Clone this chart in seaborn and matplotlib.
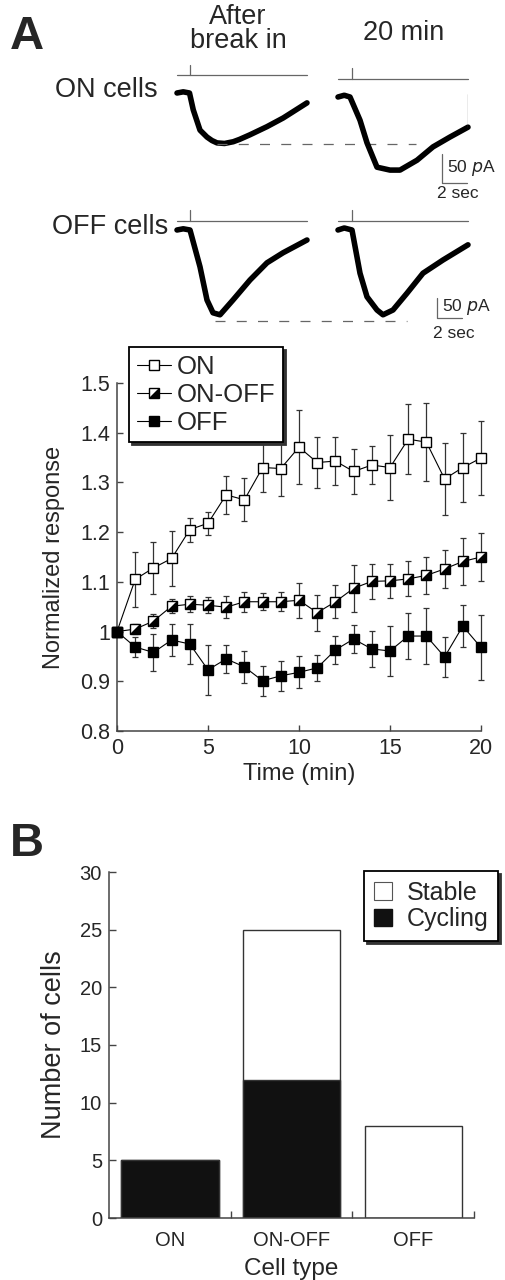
import numpy as np
import pandas as pd
import seaborn as sns
import matplotlib.pyplot as plt
from matplotlib.lines import Line2D
from matplotlib.patches import Patch
from matplotlib.ticker import FormatStrFormatter, FixedLocator

# --- data ---
# example traces (time in s, current in pA, relative to baseline)
on_before_t = [0, 0.5, 1.0, 1.3, 1.84, 2.4, 2.8, 3.2, 3.8, 4.5, 5.0, 5.84, 7.2, 8.5, 10.4]
on_before_i = [0, 2, 0, -29, -64, -76, -82, -86, -87, -84, -80, -72, -58, -43, -17]
on_after_t = [0, 0.5, 0.96, 1.76, 2.32, 3.12, 4.16, 4.96, 6.32, 7.6, 8.96, 10.4]
on_after_i = [0, 3, 0, -40, -79, -121, -126, -126, -109, -86, -69, -52]
off_before_t = [0, 0.5, 1.04, 1.84, 2.4, 2.88, 3.44, 4.48, 5.84, 7.2, 8.48, 10.4]
off_before_i = [0, 3, 0, -92, -175, -207, -212, -175, -125, -82, -57, -25]
off_after_t = [0, 0.5, 1.12, 1.76, 2.32, 3.12, 3.6, 4.4, 5.52, 6.8, 8.4, 10.4]
off_after_i = [0, 5, 0, -108, -167, -200, -212, -200, -158, -108, -75, -37]

# time course
time_min = list(range(21))
on_mean = [1.0, 1.105, 1.128, 1.147, 1.205, 1.218, 1.275, 1.265, 1.33, 1.328, 1.371,
           1.34, 1.343, 1.322, 1.335, 1.33, 1.387, 1.381, 1.307, 1.33, 1.349]
on_err = [0, 0.055, 0.052, 0.056, 0.024, 0.023, 0.038, 0.043, 0.05, 0.055, 0.074,
          0.052, 0.049, 0.046, 0.039, 0.066, 0.071, 0.079, 0.073, 0.07, 0.075]
onoff_mean = [1.0, 1.005, 1.021, 1.051, 1.055, 1.053, 1.049, 1.06, 1.06, 1.06, 1.063,
              1.038, 1.06, 1.087, 1.101, 1.102, 1.106, 1.113, 1.126, 1.141, 1.15]
onoff_err = [0, 0.01, 0.014, 0.014, 0.016, 0.016, 0.022, 0.02, 0.017, 0.019, 0.035,
             0.036, 0.033, 0.047, 0.035, 0.034, 0.035, 0.037, 0.038, 0.047, 0.048]
off_mean = [1.0, 0.969, 0.958, 0.983, 0.975, 0.923, 0.945, 0.929, 0.901, 0.911, 0.918,
            0.927, 0.963, 0.985, 0.965, 0.961, 0.991, 0.991, 0.949, 1.011, 0.968]
off_err = [0, 0.02, 0.037, 0.032, 0.04, 0.05, 0.028, 0.032, 0.03, 0.03, 0.032,
           0.026, 0.029, 0.028, 0.037, 0.051, 0.047, 0.056, 0.041, 0.043, 0.065]

# cell counts
cell_types = ["ON", "ON-OFF", "OFF"]
stable = [0, 13, 8]
cycling = [5, 12, 0]

sns.set_style("ticks")
plt.rcParams['font.family'] = ['Liberation Sans', 'DejaVu Sans']

W, H = 505, 1280
fig = plt.figure(figsize=(W / 100, H / 100), dpi=100)


def rect(l, t, r, b):
    return [l / W, 1 - b / H, (r - l) / W, (b - t) / H]


# ---------------- traces ----------------
PX_S = 12.5  # px per second


def trace_axes(left, baseline, k, ytop, ybot):
    # k = pA per px
    top = baseline - ytop / k
    bot = baseline - ybot / k
    ax = fig.add_axes(rect(left, top, left + 10.4 * PX_S, bot))
    ax.set_xlim(0, 10.4)
    ax.set_ylim(ybot, ytop)
    ax.axis("off")
    return ax


gray = "#666666"
k_on, k_off = 1.724, 2.5

ax1 = trace_axes(177, 93, k_on, 60, -175)
ax2 = trace_axes(338, 97, k_on, 60, -175)
ax3 = trace_axes(177, 230, k_off, 60, -260)
ax4 = trace_axes(338, 230, k_off, 60, -260)

for ax, t, i, stim, tick, t0 in [
    (ax1, on_before_t, on_before_i, 31, 48, 1.0),
    (ax2, on_after_t, on_after_i, 31, 50, 1.1),
    (ax3, off_before_t, off_before_i, 22, 50, 1.0),
    (ax4, off_after_t, off_after_i, 22, 50, 1.1),
]:
    sns.lineplot(x=t, y=i, ax=ax, color="black", lw=4, clip_on=False)
    ax.plot([0, 10.4], [stim, stim], color=gray, lw=0.9, clip_on=False)
    ax.plot([t0, t0], [stim, tick], color=gray, lw=0.9, clip_on=False)

ax2.plot([10.4, 10.4], [5, -52], color=gray, lw=0.9)

# dashed reference lines
ax1.plot([3.2, 19.1], [-88, -88], color=gray, lw=0.9, ls=(0, (8, 9)), clip_on=False)
ax3.plot([3.0, 18.4], [-227, -227], color=gray, lw=0.9, ls=(0, (8, 9)), clip_on=False)

# scale bars
ax2.plot([8.32, 8.32, 10.32], [-98, -148, -148], color=gray, lw=0.9, clip_on=False)
ax2.text(8.7, -122, "50 $\\mathit{p}$A", fontsize=12.5, va="center", ha="left")
ax2.text(9.6, -167, "2 sec", fontsize=12.5, va="center", ha="center")
ax4.plot([7.92, 7.92, 9.92], [-170, -220, -220], color=gray, lw=0.9, clip_on=False)
ax4.text(8.3, -192, "50 $\\mathit{p}$A", fontsize=12.5, va="center", ha="left")
ax4.text(9.3, -258, "2 sec", fontsize=12.5, va="center", ha="center")

fig.text(10 / W, 1 - 37 / H, "A", fontsize=34, fontweight="bold", va="center", ha="left")
fig.text(238 / W, 1 - 29 / H, "After\nbreak in", fontsize=19.5, ha="center", va="center",
         linespacing=0.95)
fig.text(404 / W, 1 - 33 / H, "20 min", fontsize=19.5, ha="center", va="center")
fig.text(55 / W, 1 - 90 / H, "ON cells", fontsize=19.5, ha="left", va="center")
fig.text(52 / W, 1 - 227 / H, "OFF cells", fontsize=19.5, ha="left", va="center")

# ---------------- time course ----------------
axc = fig.add_axes(rect(117, 383, 481, 731))
spine_c = "#444444"
tri = [(-1, -1), (1, -1), (1, 1)]

for mean, err in [(on_mean, on_err), (onoff_mean, onoff_err), (off_mean, off_err)]:
    axc.errorbar(time_min, mean, yerr=err, fmt="none", ecolor="#333333",
                 elinewidth=0.9, capsize=2, capthick=0.9, zorder=2, clip_on=False)

sq = dict(marker="s", markersize=7.5, markeredgecolor="black", markeredgewidth=1)
sns.lineplot(x=time_min, y=on_mean, ax=axc, color="black", lw=0.8,
             markerfacecolor="white", zorder=3, clip_on=False, **sq)
sns.lineplot(x=time_min, y=onoff_mean, ax=axc, color="black", lw=0.8,
             markerfacecolor="white", zorder=3, clip_on=False, **sq)
axc.plot(time_min, onoff_mean, ls="none", marker=tri, markersize=7.5,
         markerfacecolor="black", markeredgewidth=0, zorder=4, clip_on=False)
sns.lineplot(x=time_min, y=off_mean, ax=axc, color="black", lw=0.8,
             markerfacecolor="black", zorder=3, clip_on=False, **sq)

axc.set_xlim(0, 20)
axc.set_ylim(0.8, 1.5)
axc.set_xticks([0, 5, 10, 15, 20])
axc.set_yticks([0.8, 0.9, 1.0, 1.1, 1.2, 1.3, 1.4, 1.5])
axc.yaxis.set_major_formatter(FormatStrFormatter("%g"))
axc.tick_params(direction="in", length=4, width=1, color=spine_c, labelsize=15.5, pad=5)
axc.set_xlabel("Time (min)", fontsize=17, labelpad=3)
axc.set_ylabel("Normalized response", fontsize=17, labelpad=11)
sns.despine(ax=axc)
for s in ["left", "bottom"]:
    axc.spines[s].set_color(spine_c)
    axc.spines[s].set_linewidth(1.1)

h_on = Line2D([], [], color="black", lw=0.8, markerfacecolor="white", **sq)
h_onoff_sq = Line2D([], [], color="black", lw=0.8, markerfacecolor="white", **sq)
h_onoff_tri = Line2D([], [], ls="none", marker=tri, markersize=7.5,
                     markerfacecolor="black", markeredgewidth=0)
h_off = Line2D([], [], color="black", lw=0.8, markerfacecolor="black", **sq)
leg = axc.legend([h_on, (h_onoff_sq, h_onoff_tri), h_off], ["ON", "ON-OFF", "OFF"],
                 loc="upper left", bbox_to_anchor=(0.033, 1.103), borderaxespad=0,
                 fontsize=18.5, handlelength=1.35, handletextpad=0.2, labelspacing=0.15,
                 borderpad=0.3, fancybox=False, framealpha=1,
                 shadow={"color": "0.2", "alpha": 1})
leg.get_frame().set_edgecolor("black")
leg.get_frame().set_linewidth(1.3)

# ---------------- cell counts ----------------
axb = fig.add_axes(rect(109, 872, 474, 1218))
totals = [s + c for s, c in zip(stable, cycling)]
sns.barplot(x=cell_types, y=totals, ax=axb, color="white", edgecolor="#333333",
            linewidth=1, width=0.8, saturation=1)
sns.barplot(x=cell_types, y=cycling, ax=axb, color="#111111", edgecolor="#333333",
            linewidth=1, width=0.8, saturation=1)
axb.set_xlim(-0.5, 2.5)
axb.set_ylim(0, 30)
axb.set_yticks([0, 5, 10, 15, 20, 25, 30])
axb.xaxis.set_minor_locator(FixedLocator([0.5, 1.5, 2.5]))
axb.tick_params(axis="x", which="major", length=0, labelsize=14.5, pad=9)
axb.tick_params(axis="x", which="minor", direction="in", length=5, width=1, color=spine_c)
axb.tick_params(axis="y", direction="in", length=5, width=1, color=spine_c, labelsize=14.5, pad=5)
axb.set_xlabel("Cell type", fontsize=17.5, labelpad=6)
axb.set_ylabel("Number of cells", fontsize=19.5, labelpad=9)
sns.despine(ax=axb)
for s in ["left", "bottom"]:
    axb.spines[s].set_color(spine_c)
    axb.spines[s].set_linewidth(1.1)

legb = axb.legend([Patch(facecolor="white", edgecolor="#555555", linewidth=0.8),
                   Patch(facecolor="#111111", edgecolor="#111111")],
                  ["Stable", "Cycling"], loc="upper left", bbox_to_anchor=(0.699, 1.003),
                  borderaxespad=0, fontsize=18, handlelength=0.7, handleheight=0.7,
                  handletextpad=0.6, labelspacing=0.1, borderpad=0.4, fancybox=False,
                  framealpha=1, shadow={"color": "0.2", "alpha": 1})
legb.get_frame().set_edgecolor("black")
legb.get_frame().set_linewidth(1.3)

fig.text(10 / W, 1 - 844 / H, "B", fontsize=34, fontweight="bold", va="center", ha="left")

fig.savefig("out.png", dpi=100)
